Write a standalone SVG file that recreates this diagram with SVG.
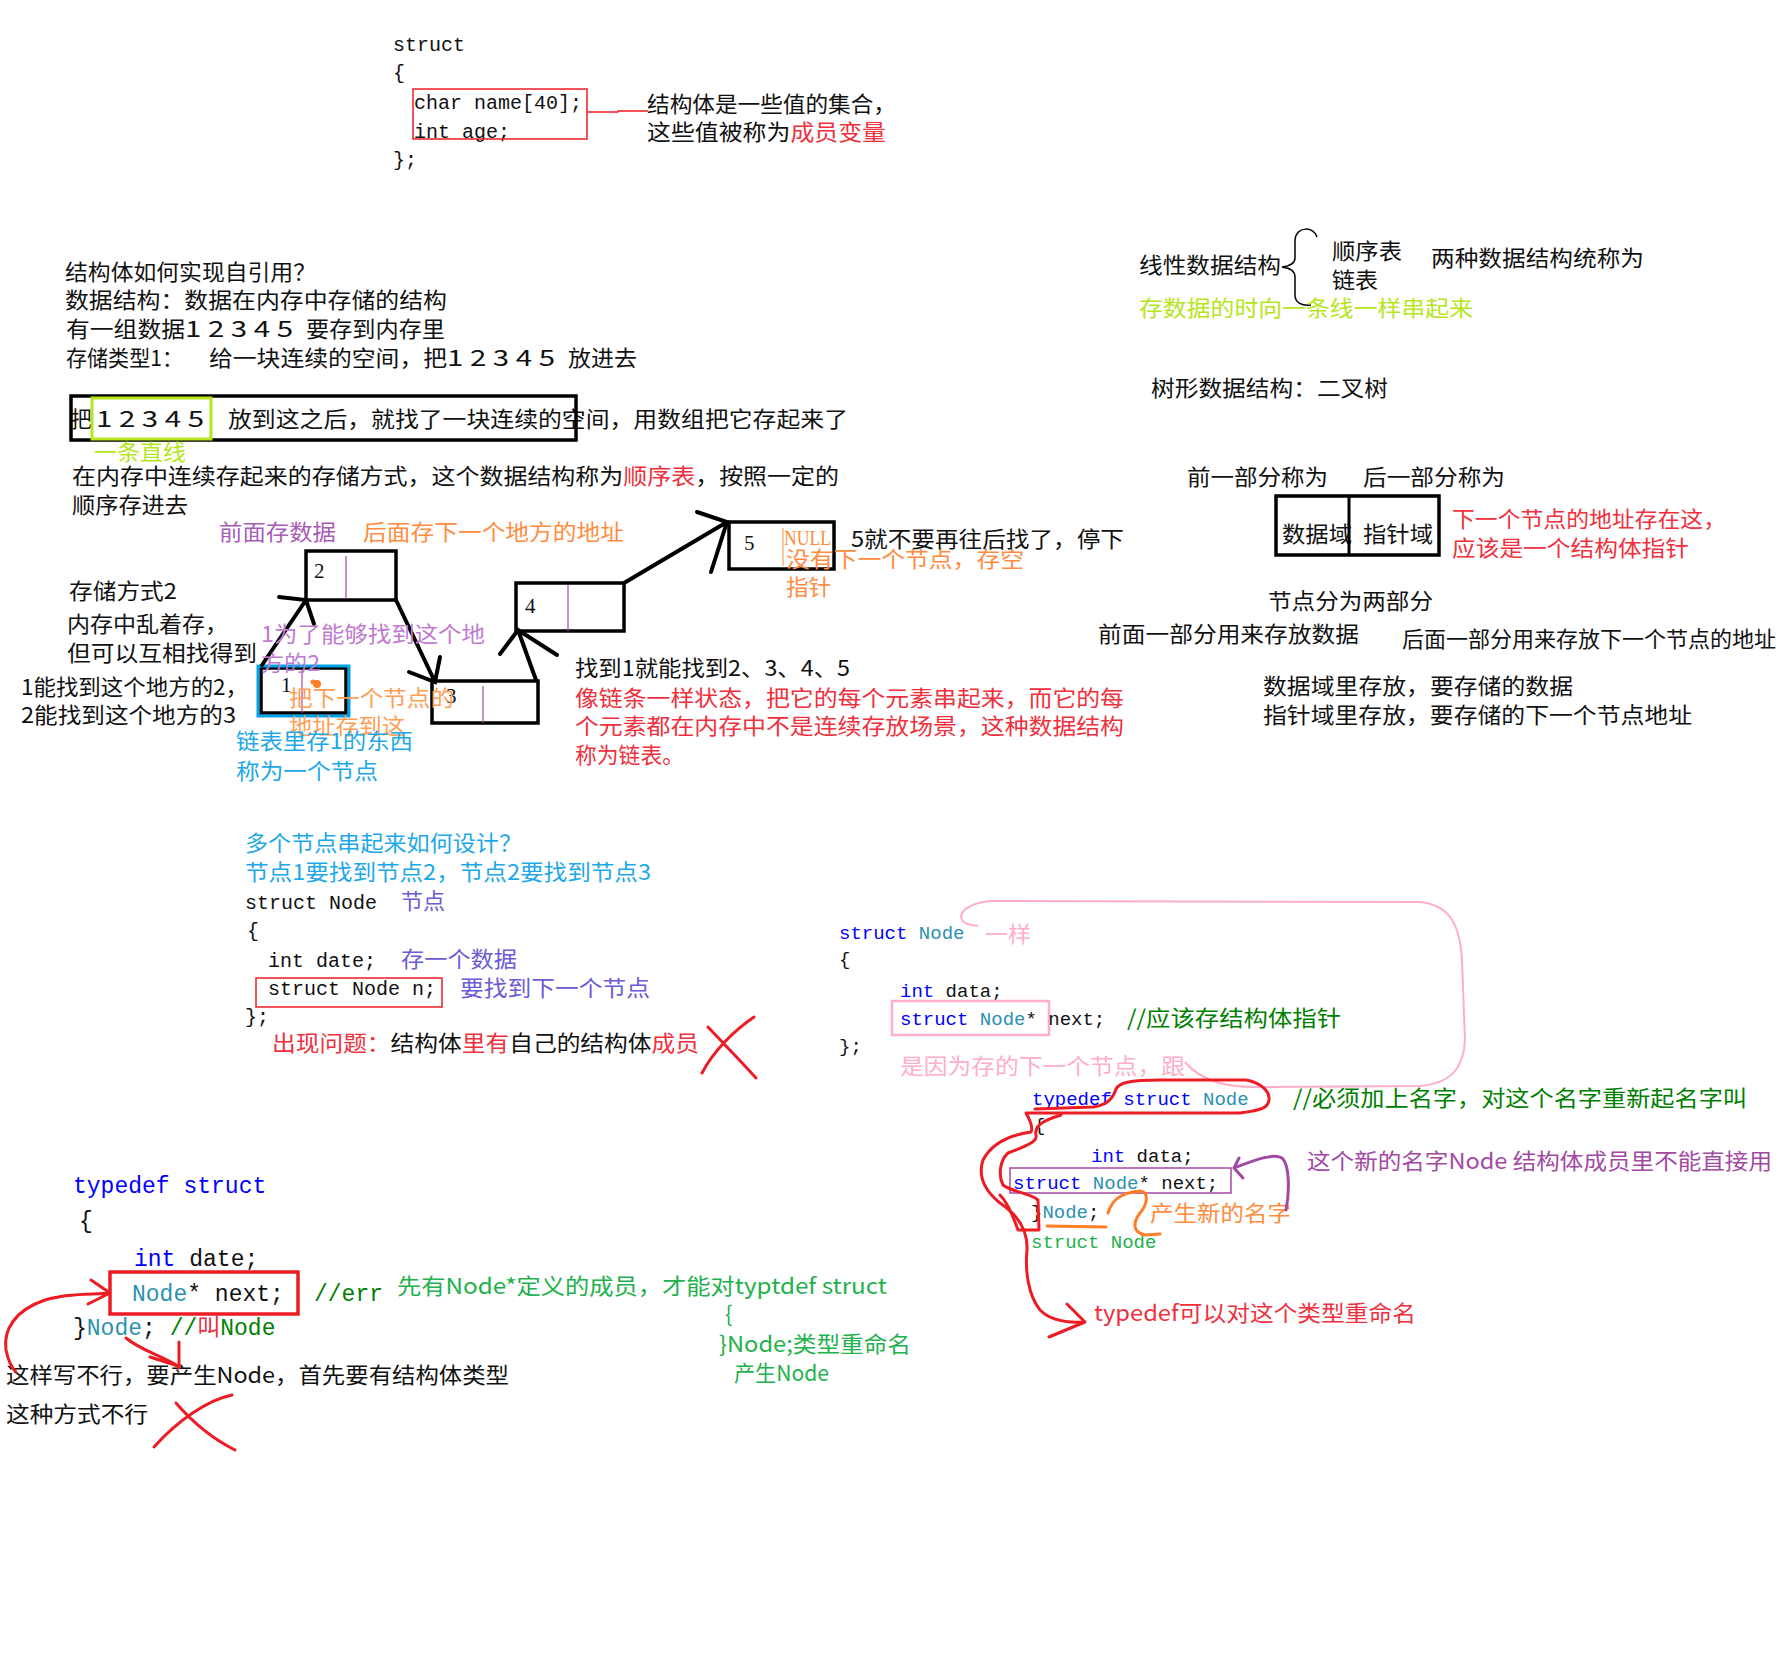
<svg xmlns="http://www.w3.org/2000/svg" width="1790" height="1665" viewBox="0 0 1790 1665">
<style>
.t{font-family:"Noto Sans CJK SC","Liberation Sans",sans-serif;font-size:22px;fill:#111}
.c{font-family:"Liberation Mono","Noto Sans CJK SC",monospace;font-size:20px;fill:#111}
.c19{font-family:"Liberation Mono","Noto Sans CJK SC",monospace;font-size:19px;fill:#111}
.c23{font-family:"Liberation Mono","Noto Sans CJK SC",monospace;font-size:23px;fill:#111}
.num{font-family:"Liberation Serif",serif;font-size:21px;fill:#111}
.k{fill:#0000ff}.n{fill:#2b91af}.g{fill:#008000}.lg{fill:#22b14c}
.r{fill:#f0303c}.o{fill:#ff8c40}.lo{fill:#ff9e55}.p{fill:#a85cb8}.lp{fill:#c07ad0}
.b{fill:#1ea8e8}.bp{fill:#6b5bd6}.pk{fill:#ffaec9}.lime{fill:#b5e61d}.pu{fill:#a349a4}
.box{fill:none;stroke:#000;stroke-width:3.5}
.arr{fill:none;stroke:#000;stroke-width:4;stroke-linecap:round}
.red{fill:none;stroke:#ed1c24;stroke-width:3;stroke-linecap:round;stroke-linejoin:round}
.div{stroke:#a349a4;stroke-width:1.2}
</style>

<g id="struct-basic">
<text class="c" x="393" y="51">struct</text>
<text class="c" x="393" y="79">{</text>
<text class="c" x="414" y="109">char name[40];</text>
<text class="c" x="414" y="138">int age;</text>
<text class="c" x="393" y="166">};</text>
<rect x="413" y="89" width="174" height="50" fill="none" stroke="#ed1c24" stroke-width="1.5"/>
</g>
<g id="member-note">
<text class="t" x="647" y="112" textLength="249" lengthAdjust="spacingAndGlyphs">结构体是一些值的集合，</text>
<text class="t" x="647" y="140" textLength="239" lengthAdjust="spacingAndGlyphs">这些值被称为<tspan class="r">成员变量</tspan></text>
</g>
<g id="member-link">
<path d="M587 112 L618 112 L618 111 L648 111" fill="none" stroke="#ed1c24" stroke-width="1.3"/>
</g>

<g id="intro-text">
<text class="t" x="65" y="280" textLength="251" lengthAdjust="spacingAndGlyphs">结构体如何实现自引用？</text>
<text class="t" x="65" y="308" textLength="382" lengthAdjust="spacingAndGlyphs">数据结构：数据在内存中存储的结构</text>
<text class="t" x="66" y="337" textLength="119" lengthAdjust="spacingAndGlyphs">有一组数据</text>
<text class="t" x="185" y="337" textLength="108" lengthAdjust="spacingAndGlyphs">1 2 3 4 5</text>
<text class="t" x="306" y="337" textLength="139" lengthAdjust="spacingAndGlyphs">要存到内存里</text>
<text class="t" x="66" y="366" textLength="117" lengthAdjust="spacingAndGlyphs">存储类型1：</text>
<text class="t" x="209" y="366" textLength="238" lengthAdjust="spacingAndGlyphs">给一块连续的空间，把</text>
<text class="t" x="447" y="366" textLength="108" lengthAdjust="spacingAndGlyphs">1 2 3 4 5</text>
<text class="t" x="568" y="366" textLength="69" lengthAdjust="spacingAndGlyphs">放进去</text>
</g>

<g id="array-box">
<text class="t" x="71" y="427" textLength="21" lengthAdjust="spacingAndGlyphs">把</text>
<text class="t" x="96" y="427" textLength="108" lengthAdjust="spacingAndGlyphs">1 2 3 4 5</text>
<text class="t" x="228" y="427" textLength="620" lengthAdjust="spacingAndGlyphs">放到这之后，就找了一块连续的空间，用数组把它存起来了</text>
<rect class="box" x="71" y="396" width="505" height="44"/>
<rect x="92" y="398" width="119" height="41" fill="none" stroke="#b5e61d" stroke-width="3"/>
<text class="t lime" x="94" y="460" textLength="92" lengthAdjust="spacingAndGlyphs">一条直线</text>
</g>

<g id="seq-table-text">
<text class="t" x="72" y="484" textLength="767" lengthAdjust="spacingAndGlyphs">在内存中连续存起来的存储方式，这个数据结构称为<tspan class="r">顺序表</tspan>，按照一定的</text>
<text class="t" x="72" y="513" textLength="116" lengthAdjust="spacingAndGlyphs">顺序存进去</text>
<text class="t p" x="219" y="540" textLength="117" lengthAdjust="spacingAndGlyphs">前面存数据</text>
<text class="t o" x="363" y="540" textLength="261" lengthAdjust="spacingAndGlyphs">后面存下一个地方的地址</text>
</g>

<g id="storage2-text">
<text class="t" x="69" y="599" textLength="108" lengthAdjust="spacingAndGlyphs">存储方式2</text>
<text class="t" x="67" y="632" textLength="161" lengthAdjust="spacingAndGlyphs">内存中乱着存，</text>
<text class="t" x="67" y="661" textLength="190" lengthAdjust="spacingAndGlyphs">但可以互相找得到</text>
<text class="t" x="21" y="695" textLength="227" lengthAdjust="spacingAndGlyphs">1能找到这个地方的2，</text>
<text class="t" x="21" y="723" textLength="215" lengthAdjust="spacingAndGlyphs">2能找到这个地方的3</text>
</g>

<g id="node1">
<rect class="box" x="261" y="668" width="85" height="45"/>
<rect x="258" y="666" width="91" height="50" fill="none" stroke="#00a2e8" stroke-width="3"/>
<line class="div" x1="302" y1="670" x2="302" y2="713"/>
<text class="num" x="281" y="692">1</text>
<circle cx="317" cy="684" r="4" fill="#ff7f27"/>
<circle cx="313" cy="682" r="2.5" fill="#ff7f27"/>
</g>
<g id="node2">
<rect class="box" x="306" y="551" width="90" height="49"/>
<line class="div" x1="346" y1="556" x2="346" y2="599"/>
<text class="num" x="314" y="578">2</text>
</g>
<g id="node3">
<rect class="box" x="432" y="681" width="106" height="42"/>
<line class="div" x1="483" y1="686" x2="483" y2="723"/>
<text class="num" x="446" y="703">3</text>
</g>
<g id="node4">
<rect class="box" x="516" y="583" width="108" height="48"/>
<line class="div" x1="568" y1="585" x2="568" y2="631"/>
<text class="num" x="525" y="613">4</text>
</g>
<g id="node5">
<rect class="box" x="729" y="522" width="105" height="47"/>
<text class="num" x="744" y="550">5</text>
<line x1="783" y1="528" x2="783" y2="566" stroke="#ff8c40" stroke-width="1"/>
<text class="o" x="784" y="545" font-family="Liberation Serif" font-size="21" textLength="47" lengthAdjust="spacingAndGlyphs">NULL</text>
</g>

<g id="connectors">
<path class="arr" d="M262 665 L306 600 M279 597 L306 600 L314 624"/>
<path class="arr" d="M396 600 L435 682 M409 672 L435 682 L440 657"/>
<path class="arr" d="M536 680 L518 630 M500 654 L518 630 L557 655"/>
<path class="arr" d="M624 583 L727 522 M697 512 L727 522 L711 572"/>
</g>

<g id="node-notes">
<text class="t lp" x="261" y="642" textLength="224" lengthAdjust="spacingAndGlyphs">1为了能够找到这个地</text>
<text class="t lp" x="261" y="671" textLength="59" lengthAdjust="spacingAndGlyphs">方的2</text>
<text class="t lo" x="289" y="706" textLength="165" lengthAdjust="spacingAndGlyphs">把下一个节点的</text>
<text class="t lo" x="289" y="734" textLength="116" lengthAdjust="spacingAndGlyphs">地址存到这</text>
<text class="t b" x="236" y="749" textLength="177" lengthAdjust="spacingAndGlyphs">链表里存1的东西</text>
<text class="t b" x="236" y="779" textLength="142" lengthAdjust="spacingAndGlyphs">称为一个节点</text>
<text class="t o" x="786" y="567" textLength="238" lengthAdjust="spacingAndGlyphs">没有下一个节点，存空</text>
<text class="t o" x="786" y="595" textLength="45" lengthAdjust="spacingAndGlyphs">指针</text>
<text class="t" x="851" y="547" textLength="273" lengthAdjust="spacingAndGlyphs">5就不要再往后找了，停下</text>
</g>

<g id="linked-list-text">
<text class="t" x="575" y="676" textLength="275" lengthAdjust="spacingAndGlyphs">找到1就能找到2、3、4、5</text>
<text class="t r" x="575" y="706" textLength="549" lengthAdjust="spacingAndGlyphs">像链条一样状态，把它的每个元素串起来，而它的每</text>
<text class="t r" x="575" y="734" textLength="549" lengthAdjust="spacingAndGlyphs">个元素都在内存中不是连续存放场景，这种数据结构</text>
<text class="t r" x="575" y="763" textLength="109" lengthAdjust="spacingAndGlyphs">称为链表。</text>
</g>

<g id="linear-structure">
<text class="t" x="1139" y="273" textLength="142" lengthAdjust="spacingAndGlyphs">线性数据结构</text>
<path d="M1317 237 C1314 226 1296 226 1295 240 L1295 258 C1295 264 1290 266 1282 267 C1290 268 1295 271 1295 277 L1295 295 C1295 303 1302 306 1311 305" fill="none" stroke="#000" stroke-width="1.5"/>
<text class="t" x="1332" y="259" textLength="70" lengthAdjust="spacingAndGlyphs">顺序表</text>
<text class="t" x="1332" y="288" textLength="46" lengthAdjust="spacingAndGlyphs">链表</text>
<text class="t" x="1431" y="266" textLength="213" lengthAdjust="spacingAndGlyphs">两种数据结构统称为</text>
<text class="t lime" x="1139" y="316" textLength="334" lengthAdjust="spacingAndGlyphs">存数据的时向一条线一样串起来</text>
<text class="t" x="1151" y="396" textLength="237" lengthAdjust="spacingAndGlyphs">树形数据结构：二叉树</text>
</g>

<g id="node-parts">
<text class="t" x="1187" y="485" textLength="141" lengthAdjust="spacingAndGlyphs">前一部分称为</text>
<text class="t" x="1363" y="485" textLength="142" lengthAdjust="spacingAndGlyphs">后一部分称为</text>
<text class="t" x="1282" y="542" textLength="70" lengthAdjust="spacingAndGlyphs">数据域</text>
<text class="t" x="1363" y="542" textLength="70" lengthAdjust="spacingAndGlyphs">指针域</text>
<rect class="box" x="1276" y="496" width="163" height="59"/>
<line x1="1349" y1="496" x2="1349" y2="555" stroke="#000" stroke-width="3"/>
<text class="t r" x="1452" y="527" textLength="274" lengthAdjust="spacingAndGlyphs">下一个节点的地址存在这，</text>
<text class="t r" x="1452" y="556" textLength="237" lengthAdjust="spacingAndGlyphs">应该是一个结构体指针</text>
<text class="t" x="1268" y="609" textLength="165" lengthAdjust="spacingAndGlyphs">节点分为两部分</text>
<text class="t" x="1098" y="642" textLength="261" lengthAdjust="spacingAndGlyphs">前面一部分用来存放数据</text>
<text class="t" x="1402" y="647" font-size="23.5">后面一部分用来存放下一个节点的地址</text>
<text class="t" x="1263" y="694" textLength="310" lengthAdjust="spacingAndGlyphs">数据域里存放，要存储的数据</text>
<text class="t" x="1263" y="723" textLength="429" lengthAdjust="spacingAndGlyphs">指针域里存放，要存储的下一个节点地址</text>
</g>

<g id="struct-node-wrong">
<text class="t b" x="245" y="851" textLength="277" lengthAdjust="spacingAndGlyphs">多个节点串起来如何设计？</text>
<text class="t b" x="245" y="880" textLength="406" lengthAdjust="spacingAndGlyphs">节点1要找到节点2，节点2要找到节点3</text>
<text class="c" x="245" y="909">struct Node</text>
<text class="t bp" x="401" y="909" textLength="44" lengthAdjust="spacingAndGlyphs">节点</text>
<text class="c" x="247" y="937">{</text>
<text class="c" x="268" y="967">int date;</text>
<text class="t bp" x="401" y="967" textLength="116" lengthAdjust="spacingAndGlyphs">存一个数据</text>
<rect x="256" y="978" width="186" height="29" fill="none" stroke="#ed1c24" stroke-width="1.5"/>
<text class="c" x="268" y="995">struct Node n;</text>
<text class="t bp" x="460" y="996" textLength="190" lengthAdjust="spacingAndGlyphs">要找到下一个节点</text>
<text class="c" x="245" y="1023">};</text>
<text class="t" x="272" y="1051" textLength="427" lengthAdjust="spacingAndGlyphs"><tspan class="r">出现问题：</tspan>结构体<tspan class="r">里有</tspan>自己的结构体<tspan class="r">成员</tspan></text>
<path class="red" stroke-width="3.5" d="M708 1027 C722 1042 740 1060 756 1078 M754 1017 C735 1030 714 1050 702 1073"/>
</g>

<g id="struct-node-pointer">
<text class="c19" x="839" y="939"><tspan class="k">struct</tspan> <tspan class="n">Node</tspan></text>
<text class="t pk" x="985" y="942" textLength="46" lengthAdjust="spacingAndGlyphs">一样</text>
<text class="c19" x="839" y="965">{</text>
<text class="c19" x="900" y="997"><tspan class="k">int</tspan> data;</text>
<rect x="892" y="1001" width="157" height="34" fill="none" stroke="#ffaec9" stroke-width="2.5"/>
<text class="c19" x="900" y="1025"><tspan class="k">struct</tspan> <tspan class="n">Node</tspan>* next;</text>
<text class="t g" x="1127" y="1026" textLength="214" lengthAdjust="spacingAndGlyphs">//应该存结构体指针</text>
<text class="c19" x="839" y="1052">};</text>
<text class="t pk" x="900" y="1074" textLength="285" lengthAdjust="spacingAndGlyphs">是因为存的下一个节点，跟</text>
<path d="M1185 1062 C1200 1080 1225 1088 1260 1087 L1420 1086 C1450 1083 1463 1070 1465 1040 L1462 960 C1460 925 1450 905 1420 902 L992 901 C970 902 958 912 962 920 C965 925 972 925 978 926" fill="none" stroke="#ffaec9" stroke-width="2"/>
</g>

<g id="typedef-node">
<text class="c19" x="1032" y="1105"><tspan class="k">typedef</tspan> <tspan class="k">struct</tspan> <tspan class="n">Node</tspan></text>
<text class="t g" x="1293" y="1106" textLength="454" lengthAdjust="spacingAndGlyphs">//必须加上名字，对这个名字重新起名字叫</text>
<text class="c19" x="1034" y="1131">{</text>
<text class="c19" x="1091" y="1162"><tspan class="k">int</tspan> data;</text>
<rect x="1010" y="1168" width="221" height="25" fill="none" stroke="#a349a4" stroke-width="1.5"/>
<text class="c19" x="1013" y="1189"><tspan class="k">struct</tspan> <tspan class="n">Node</tspan>* next;</text>
<text class="t pu" x="1307" y="1169" textLength="465" lengthAdjust="spacingAndGlyphs">这个新的名字Node 结构体成员里不能直接用</text>
<text class="c19" x="1031" y="1218">}<tspan class="n">Node</tspan>;</text>
<text class="t o" x="1150" y="1221" textLength="141" lengthAdjust="spacingAndGlyphs">产生新的名字</text>
<text class="c19 lg" x="1031" y="1248">struct Node</text>
<text class="t r" x="1094" y="1321" textLength="322" lengthAdjust="spacingAndGlyphs">typedef可以对这个类型重命名</text>
<path class="red" d="M1035 1109 L1093 1107 C1108 1105 1113 1098 1116 1089 C1119 1083 1128 1080 1161 1080 L1246 1080 C1262 1083 1270 1092 1269 1100 C1268 1108 1262 1110 1240 1113 L1026 1113 C1030 1120 1033 1128 1031 1132 C1010 1135 992 1143 983 1160 C978 1175 984 1190 1000 1203 C1015 1213 1028 1228 1027 1250 C1025 1270 1028 1295 1040 1310 C1050 1320 1065 1323 1083 1322"/>
<path class="red" d="M1067 1304 L1085 1322 L1049 1337"/>
<path class="red" d="M1061 1115 C1045 1120 1034 1125 1036 1135 C1038 1143 1020 1148 1008 1153 C1000 1160 998 1175 1003 1185 C1012 1192 1030 1193 1038 1200 L1039 1230 L1018 1230 C1014 1220 1010 1205 1000 1195"/>
<path d="M1047 1226 L1106 1227 M1108 1213 C1112 1200 1120 1193 1140 1191 C1150 1192 1147 1205 1140 1213 C1133 1222 1132 1232 1145 1235 L1160 1234" fill="none" stroke="#ff7f27" stroke-width="3" stroke-linecap="round"/>
<path d="M1286 1210 C1290 1190 1289 1166 1283 1159 C1275 1152 1255 1160 1234 1168 M1239 1158 L1234 1168 L1243 1178" fill="none" stroke="#a349a4" stroke-width="3" stroke-linecap="round"/>
</g>

<g id="typedef-wrong">
<text class="c23" x="73" y="1193"><tspan class="k">typedef struct</tspan></text>
<text class="c23" x="79" y="1228">{</text>
<text class="c23" x="134" y="1266"><tspan class="k">int</tspan> date;</text>
<rect x="110" y="1272" width="188" height="42" fill="none" stroke="#ed1c24" stroke-width="3.5"/>
<text class="c23" x="132" y="1301"><tspan class="n">Node</tspan>* next;</text>
<text class="c23 g" x="314" y="1301">//err</text>
<text class="t lg" x="397" y="1294" textLength="490" lengthAdjust="spacingAndGlyphs">先有Node*定义的成员，才能对typtdef struct</text>
<text class="c23" x="73" y="1335">}<tspan class="n">Node</tspan>; <tspan class="g">//</tspan><tspan class="r">叫</tspan><tspan class="g">Node</tspan></text>
<text class="t lg" x="725" y="1322">{</text>
<text class="t lg" x="719" y="1352" textLength="192" lengthAdjust="spacingAndGlyphs">}Node;类型重命名</text>
<text class="t lg" x="734" y="1381" textLength="95" lengthAdjust="spacingAndGlyphs">产生Node</text>
<text class="t" x="6" y="1383" textLength="503" lengthAdjust="spacingAndGlyphs">这样写不行，要产生Node，首先要有结构体类型</text>
<text class="t" x="6" y="1422" textLength="142" lengthAdjust="spacingAndGlyphs">这种方式不行</text>
<path class="red" stroke-width="2" d="M110 1293 C95 1295 70 1292 45 1300 C15 1310 3 1330 6 1350 C8 1360 12 1368 16 1372 M91 1280 L110 1293 L88 1304"/>
<path class="red" stroke-width="2" d="M126 1338 C140 1350 160 1355 178 1366 M179 1342 L179 1368 M150 1357 L178 1366"/>
<path class="red" stroke-width="3" d="M154 1447 C178 1420 208 1400 232 1395 M176 1403 C195 1425 215 1440 235 1450"/>
</g>
</svg>
